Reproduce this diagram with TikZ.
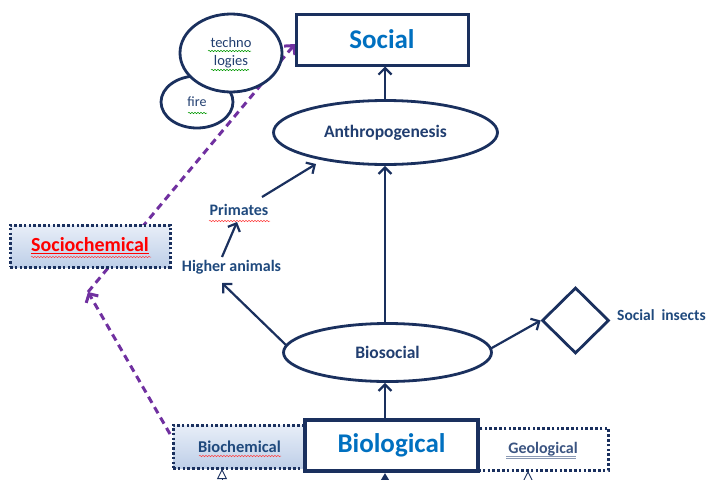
\documentclass[tikz,border=0pt]{standalone}
\usepackage{fontspec}
\setmainfont{Carlito}
\usetikzlibrary{arrows.meta,shapes.geometric,decorations.pathmorphing}

\definecolor{navy}{RGB}{26,48,94}
\definecolor{labelblue}{RGB}{33,62,112}
\definecolor{softblue}{RGB}{31,73,125}
\definecolor{brightblue}{RGB}{0,112,192}
\definecolor{violet}{RGB}{112,48,160}
\definecolor{boxtop}{RGB}{232,238,248}
\definecolor{boxbottom}{RGB}{190,207,232}
\definecolor{geogrey}{RGB}{60,85,130}

\tikzset{
  link/.style={navy, line width=2.2pt, -{Straight Barb[length=6.5pt,width=13pt,line width=2.2pt]}},
  dashlink/.style={violet, line width=3pt, dash pattern=on 7pt off 5pt,
    -{Straight Barb[length=6.5pt,width=14pt,line width=3pt]}},
  mainbox/.style={draw=navy, line width=3pt, fill=white, inner sep=0pt},
  oval/.style={ellipse, draw=navy, line width=2.8pt, fill=white, inner sep=0pt},
  dotbox/.style={draw=navy, line width=3pt, dash pattern=on 2.6pt off 2.2pt, inner sep=0pt},
  fadebox/.style={dotbox, top color=boxtop, bottom color=boxbottom},
  plain/.style={inner sep=0pt, font=\bfseries\fontsize{16}{19}\selectfont},
  redwave/.style={decorate, decoration={snake, amplitude=0.7pt, segment length=3pt}, red!75, line width=0.5pt},
  greenwave/.style={decorate, decoration={snake, amplitude=0.7pt, segment length=3pt}, green!60!black, line width=0.5pt},
}

\begin{document}
\begin{tikzpicture}[x=1pt,y=-1pt]
\useasboundingbox (0,0) rectangle (709,479);

% waypoint of the dashed chemical path
\coordinate (bend) at (88,292);

% violet dashed path: Biochemical -> bend -> Social
\coordinate (bcstart) at (170,434);
\draw[dashlink] (bcstart) -- (bend);
\coordinate (socin) at (295,44);
\draw[dashlink] (bend) -- (socin);

% top boxes and ovals
\node[mainbox, minimum width=172pt, minimum height=51pt,
      font=\bfseries\fontsize{27}{32}\selectfont, text=brightblue] (social) at (382,39.5) {Social};
\node[oval, minimum width=72pt, minimum height=52pt,
      font=\fontsize{14}{16}\selectfont, text=labelblue] (fire) at (197,102) {fire};
\node[oval, minimum width=102pt, minimum height=78pt, align=center,
      font=\fontsize{14.5}{18}\selectfont, text=labelblue] (tech) at (231,53) {techno\\logies};
\node[oval, minimum width=224pt, minimum height=64pt,
      font=\bfseries\fontsize{17.5}{20}\selectfont, text=labelblue] (anthro) at (385.5,132.5) {Anthropogenesis};
\node[oval, minimum width=208pt, minimum height=58pt,
      font=\bfseries\fontsize{17.5}{20}\selectfont, text=labelblue] (biosoc) at (387.5,352.5) {Biosocial};

% spelling marks under the oval labels
\draw[greenwave] (208,51) -- (251,51);
\draw[greenwave] (211,70) -- (249,70);
\draw[greenwave] (188,113) -- (207,113);

% side boxes
\node[fadebox, minimum width=160pt, minimum height=42pt,
      font=\bfseries\fontsize{20}{24}\selectfont, text=red] (socchem) at (90,246) {\underline{Sociochemical}};
\draw[redwave] (31,257) -- (151,257);

\node[fadebox, minimum width=133pt, minimum height=43pt,
      font=\bfseries\fontsize{16.5}{19}\selectfont, text=softblue] (biochem) at (239.5,446.5) {Biochemical};
\draw[redwave] (199,456) -- (281,456);

\node[dotbox, fill=white, minimum width=130pt, minimum height=42pt,
      font=\bfseries\fontsize{16}{19}\selectfont, text=geogrey] (geo) at (543,449) {Geological};
\draw[geogrey!60, line width=0.7pt] (506,456) -- (576,456);
\draw[geogrey!60, line width=0.7pt] (506,458.5) -- (576,458.5);

\node[mainbox, line width=3.4pt, minimum width=173pt, minimum height=51pt,
      font=\bfseries\fontsize{27}{32}\selectfont, text=brightblue] (bio) at (391.5,445.5) {Biological};

% diamond and free labels
\node[diamond, draw=navy, line width=2.8pt, minimum width=67pt, minimum height=66pt, inner sep=0pt] (insects) at (575.5,320.5) {};
\node[plain, font=\bfseries\fontsize{15.5}{18}\selectfont, text=softblue, anchor=west] (insectlbl) at (617,315) {Social\hspace{0.45em}insects};
\node[plain, text=softblue] (higher) at (231.5,267) {Higher animals};
\node[plain, text=softblue] (primates) at (239,210) {Primates};
\draw[redwave] (209,221) -- (270,221);

% vertical spine of the main sequence
\coordinate (spine) at (385,0);
\draw[link] (spine |- anthro.north) -- (spine |- social.south);
\draw[link] (spine |- biosoc.north) -- (spine |- anthro.south);
\draw[link] (spine |- bio.north) -- (spine |- biosoc.south);

% side connectors
\coordinate (bsleft) at (287,346);
\coordinate (haend) at (222,283);
\draw[link] (bsleft) -- (haend);
\coordinate (hastart) at (222,257);
\coordinate (prend) at (237,222);
\draw[link] (hastart) -- (prend);
\coordinate (prstart) at (262,197);
\coordinate (anend) at (316,164);
\draw[link] (prstart) -- (anend);
\coordinate (bsright) at (490,349);
\draw[link] (bsright) -- (insects.west);

% incoming links from below the frame
\begin{scope}
\clip (0,0) rectangle (709,479);
\coordinate (lowmid) at (385,520);
\coordinate (midtip) at (385,473);
\draw[navy, line width=2pt, -{Triangle[length=9pt,width=10pt]}] (lowmid) -- (midtip);
\coordinate (lowleft) at (222,520);
\coordinate (lefttip) at (222,469);
\draw[navy, line width=0.9pt, dash pattern=on 1.5pt off 1.2pt, -{Triangle[open,length=10pt,width=10pt]}] (lowleft) -- (lefttip);
\coordinate (lowright) at (528,520);
\coordinate (righttip) at (528,471);
\draw[navy, line width=0.9pt, dash pattern=on 1.5pt off 1.2pt, -{Triangle[open,length=10pt,width=10pt]}] (lowright) -- (righttip);
\end{scope}
\end{tikzpicture}
\end{document}
